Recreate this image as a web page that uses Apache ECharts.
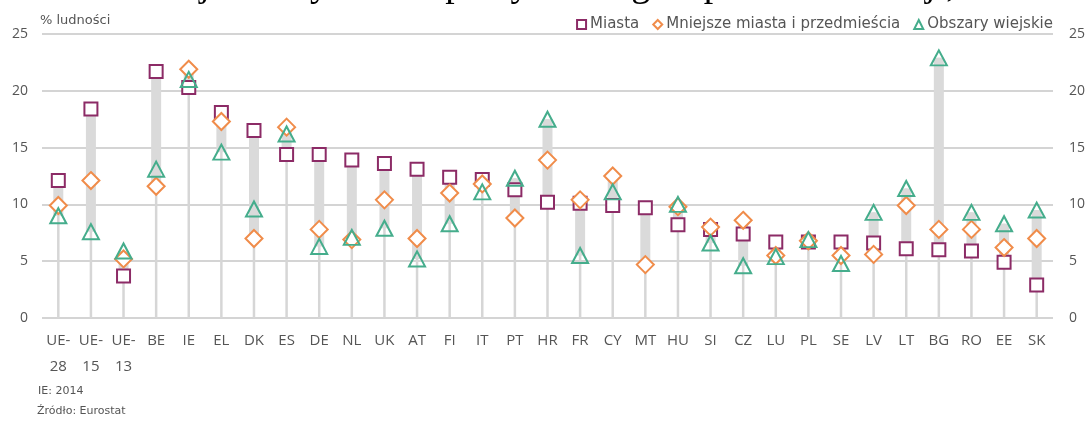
<!DOCTYPE html>
<html>
<head>
<meta charset="utf-8">
<script src="https://cdn.jsdelivr.net/npm/echarts@6/dist/echarts.min.js"></script>
<style>
  html, body { margin: 0; padding: 0; background: #fff; }
  #chart { width: 1088px; height: 426px; }
</style>
</head>
<body>
<div id="chart"></div>
<script>
// kraje (oś X)
const categories = ['UE-\n28', 'UE-\n15', 'UE-\n13', 'BE', 'IE', 'EL', 'DK', 'ES', 'DE', 'NL', 'UK', 'AT', 'FI', 'IT', 'PT', 'HR',
  'FR', 'CY', 'MT', 'HU', 'SI', 'CZ', 'LU', 'PL', 'SE', 'LV', 'LT', 'BG', 'RO', 'EE', 'SK']
// Miasta
const cities = [12.1, 18.4, 3.7, 21.7, 20.3, 18.1, 16.5, 14.4, 14.4, 13.9, 13.6, 13.1, 12.4, 12.2, 11.3, 10.2,
  10.1, 9.9, 9.7, 8.2, 7.8, 7.4, 6.7, 6.7, 6.7, 6.6, 6.1, 6.0, 5.9, 4.9, 2.9]
// Mniejsze miasta i przedmieścia
const towns = [9.9, 12.1, 5.2, 11.6, 21.9, 17.3, 7.0, 16.8, 7.8, 6.9, 10.4, 7.0, 11.0, 11.8, 8.8, 13.9,
  10.4, 12.5, 4.7, 9.8, 8.0, 8.6, 5.5, 6.8, 5.5, 5.6, 9.9, 7.8, 7.8, 6.2, 7.0]
// Obszary wiejskie (MT: brak danych)
const rural = [9.0, 7.6, 5.9, 13.1, 21.0, 14.6, 9.6, 16.2, 6.3, 7.1, 7.9, 5.2, 8.3, 11.1, 12.3, 17.5,
  5.5, 11.1, null, 10.0, 6.6, 4.6, 5.4, 6.9, 4.8, 9.3, 11.4, 22.9, 9.3, 8.3, 9.5]
const yTicks = [0, 5, 10, 15, 20, 25]

// zakres min-max dla każdego kraju
const ranges = categories.map((c, i) => {
  const vals = [cities[i], towns[i], rural[i]].filter(v => v != null)
  return [i, Math.min(...vals), Math.max(...vals)]
})

// tytuł ucięty u góry - widać tylko dolne części liter
const titleText = 'Osoby żyjące w gospodarstwach domowych o bardzo niskiej intensywności pracy według stopnia urbanizacji, 2015'
const prefJ = 'Osoby żyjące w gospodarstwach domowych o bardzo niskie'
const prefP = 'Osoby żyjące w gospodarstwach domowych o bardzo niskiej intensywności '
const ctx = document.createElement('canvas').getContext('2d')
ctx.font = '100px "Liberation Serif"'
const jC = ctx.measureText(prefJ).width + ctx.measureText('j').width / 2
const pC = ctx.measureText(prefP).width + ctx.measureText('p').width / 2
const titleSize = 100 * 250 / (pC - jC)
const titleX = 205 - jC * titleSize / 100
const titleFont = titleSize.toFixed(2) + 'px "Liberation Serif"'

const grey = '#555'
const font = 'DejaVu Sans'

let myChart = echarts.init(document.getElementById('chart'))
let option = {
  animation: false,
  textStyle: { fontFamily: font },
  grid: { left: 42, right: 31, top: 34, bottom: 108 },
  legend: {
    right: 30,
    top: 12,
    itemWidth: 9,
    itemHeight: 9,
    itemGap: 13,
    textStyle: { color: grey, fontSize: 15, fontFamily: font, padding: [0, 0, 0, -1] },
    data: ['Miasta', 'Mniejsze miasta i przedmieścia', 'Obszary wiejskie']
  },
  graphic: [
    { type: 'text', left: 40, top: 14, style: { text: '% ludności', fill: grey, font: '13px "DejaVu Sans"' } },
    { type: 'text', left: 38, top: 386, style: { text: 'IE: 2014', fill: grey, font: '11px "DejaVu Sans"' } },
    { type: 'text', left: 37, top: 406, style: { text: 'Źródło: Eurostat', fill: grey, font: '11px "DejaVu Sans"' } },
    { type: 'text', x: titleX, y: -1 - 0.3375 * titleSize, silent: true, style: { text: titleText, fill: '#000', font: titleFont, verticalAlign: 'middle' } }
  ],
  xAxis: {
    type: 'category',
    data: categories,
    boundaryGap: true,
    axisLine: { show: false },
    axisTick: { show: false },
    axisLabel: { color: grey, fontSize: 15, fontFamily: 'Open Sans', lineHeight: 26, margin: 10, interval: 0 }
  },
  yAxis: [
    {
      type: 'value', min: 0, max: 25, interval: 5,
      axisLine: { show: false }, axisTick: { show: false },
      axisLabel: { color: grey, fontSize: 14, fontFamily: 'Open Sans', margin: 14 },
      splitLine: { lineStyle: { color: '#d4d4d4', width: 2 } }
    },
    {
      type: 'value', min: 0, max: 25, interval: 5, position: 'right',
      axisLine: { show: false }, axisTick: { show: false },
      axisLabel: { color: grey, fontSize: 14, fontFamily: 'Open Sans', margin: 16, align: 'left' },
      splitLine: { show: false }
    }
  ],
  series: [
    {
      type: 'custom',
      name: 'zakres',
      data: ranges,
      z: 1,
      renderItem: function (params, api) {
        const x = api.value(0)
        const p0 = api.coord([x, 0])
        const pLo = api.coord([x, api.value(1)])
        const pHi = api.coord([x, api.value(2)])
        return {
          type: 'group',
          children: [
            { type: 'line', shape: { x1: p0[0], y1: p0[1], x2: pHi[0], y2: pHi[1] }, style: { stroke: '#d6d6d6', lineWidth: 2.5 } },
            { type: 'rect', shape: { x: pHi[0] - 5, y: pHi[1], width: 10, height: pLo[1] - pHi[1] }, style: { fill: '#dadada' } }
          ]
        }
      }
    },
    {
      name: 'Miasta', type: 'scatter', data: cities, symbol: 'rect', symbolSize: 13, z: 3,
      itemStyle: { color: '#fff', borderColor: '#8c2b66', borderWidth: 2, opacity: 1 }
    },
    {
      name: 'Mniejsze miasta i przedmieścia', type: 'scatter', data: towns, symbol: 'diamond', symbolSize: 17, z: 4,
      itemStyle: { color: '#fff', borderColor: '#f08c4a', borderWidth: 2, opacity: 1 }
    },
    {
      name: 'Obszary wiejskie', type: 'scatter', data: rural, symbol: 'triangle', symbolSize: [16, 15], z: 5,
      itemStyle: { color: 'rgba(255,255,255,0)', borderColor: '#45ad8c', borderWidth: 2, opacity: 1 }
    }
  ]
}
myChart.setOption(option)
window.addEventListener('resize', function () {
  myChart.resize()
})
</script>
</body>
</html>
